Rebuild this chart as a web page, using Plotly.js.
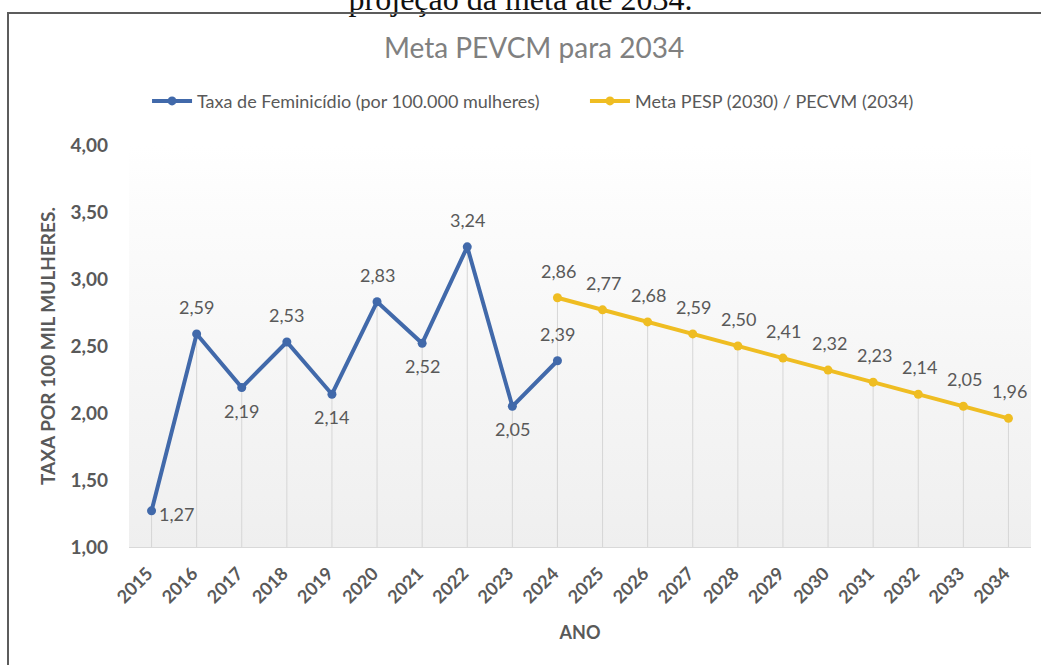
<!DOCTYPE html>
<html>
<head>
<meta charset="utf-8">
<script src="https://cdn.plot.ly/plotly-3.0.1.min.js"></script>
<style>
  html, body { margin: 0; padding: 0; background: #ffffff; width: 1041px; height: 665px; overflow: hidden; }
  #wrap { position: relative; width: 1041px; height: 665px; }
  #caption { position: absolute; left: 0; top: -17px; width: 1041px; text-align: center;
             font-family: 'Liberation Serif', 'Times New Roman', serif; font-size: 32px; line-height: 32px; color: #111; white-space: nowrap; }
  #frame { position: absolute; left: 7px; top: 12px; width: 1040px; height: 660px;
           border-top: 2px solid #5c5c5c; border-left: 2px solid #5c5c5c; box-sizing: border-box; }
  #bg { position: absolute; background: linear-gradient(to bottom, #ffffff 0%, #fcfcfc 15%, #efefef 100%); }
  #chart { position: absolute; left: 0; top: 0; width: 1041px; height: 665px; }
</style>
</head>
<body>
<div id="wrap">
  <div id="caption">projeção da meta até 2034.</div>
  <div id="frame"></div>
  <div id="bg"></div>
  <div id="chart"></div>
</div>
<script>
// ---- data ----
const years = ['2015','2016','2017','2018','2019','2020','2021','2022','2023','2024',
               '2025','2026','2027','2028','2029','2030','2031','2032','2033','2034'];
const taxaYears = ['2015','2016','2017','2018','2019','2020','2021','2022','2023','2024'];
const taxaValues = [1.27, 2.59, 2.19, 2.53, 2.14, 2.83, 2.52, 3.24, 2.05, 2.39];
const taxaLabelPos = ['right','above','below','above','below','above','below','above','below','above'];
const metaYears = ['2024','2025','2026','2027','2028','2029','2030','2031','2032','2033','2034'];
const metaValues = [2.86, 2.77, 2.68, 2.59, 2.50, 2.41, 2.32, 2.23, 2.14, 2.05, 1.96];
const taxaName = 'Taxa de Feminicídio (por 100.000 mulheres)';
const metaName = 'Meta PESP (2030) / PECVM (2034)';
const yMin = 1, yMax = 4;

// ---- style ----
const FONT = 'Lato, "Open Sans", sans-serif';
const TXT = '#595959';
const BLUE = '#4169aa';
const GOLD = '#efbd22';
const M = {l: 129, r: 10, t: 145, b: 118};

const bg = document.getElementById('bg');
bg.style.left = M.l + 'px'; bg.style.top = M.t + 'px';
bg.style.width = (1041 - M.l - M.r) + 'px'; bg.style.height = (665 - M.t - M.b) + 'px';

function fmt(v) { return v.toFixed(2).replace('.', ','); }
function catIndex(yr) { return years.indexOf(yr); }

function dropTrace(xs, ys) {
  return {
    x: xs, y: ys, type: 'scatter', mode: 'markers',
    marker: {size: 1, opacity: 0}, showlegend: false, hoverinfo: 'skip',
    error_y: {type: 'data', symmetric: false, array: ys.map(() => 0),
              arrayminus: ys.map(v => v - yMin), color: '#d6d6d6', thickness: 1, width: 0}
  };
}

const traces = [
  dropTrace(taxaYears, taxaValues),
  dropTrace(metaYears, metaValues),
  {x: taxaYears, y: taxaValues, name: taxaName, type: 'scatter', mode: 'lines+markers', legend: 'legend',
   line: {color: BLUE, width: 4}, marker: {color: BLUE, size: 9}},
  {x: metaYears, y: metaValues, name: metaName, type: 'scatter', mode: 'lines+markers', legend: 'legend2',
   line: {color: GOLD, width: 4}, marker: {color: GOLD, size: 9}}
];

const annotations = [];
taxaYears.forEach((yr, i) => {
  const p = taxaLabelPos[i];
  const a = {x: catIndex(yr), y: taxaValues[i], xref: 'x', yref: 'y', text: fmt(taxaValues[i]), showarrow: false,
             font: {family: FONT, size: 18, color: TXT}};
  if (p === 'above') { a.yshift = 27; }
  else if (p === 'below') { a.yshift = -23; }
  else { a.xshift = 25; a.yshift = -3; }
  annotations.push(a);
});
metaYears.forEach((yr, i) => {
  annotations.push({x: catIndex(yr), y: metaValues[i], xref: 'x', yref: 'y', text: fmt(metaValues[i]), showarrow: false,
                    yshift: 27, xshift: 1, font: {family: FONT, size: 18, color: TXT}});
});

const legendBase = {orientation: 'h', xanchor: 'left', y: 1.109, yanchor: 'middle',
                    font: {family: FONT, size: 18, color: TXT}, bgcolor: 'rgba(0,0,0,0)', itemwidth: 40};

const layout = {
  width: 1041, height: 665,
  margin: M,
  paper_bgcolor: 'rgba(0,0,0,0)', plot_bgcolor: 'rgba(0,0,0,0)',
  separators: ',.',
  font: {family: FONT, color: TXT},
  title: {text: 'Meta PEVCM para 2034', font: {family: FONT, size: 28, color: '#808080'},
          x: 0.513, xanchor: 'center', y: 0.928, yanchor: 'middle'},
  showlegend: true,
  legend: Object.assign({}, legendBase, {x: 0.02}),
  legend2: Object.assign({}, legendBase, {x: 0.5055}),
  xaxis: {type: 'category', categoryorder: 'array', categoryarray: years, range: [-0.5, years.length - 0.5],
          autorange: false,
          tickangle: -45, ticks: '', showgrid: false, zeroline: false,
          showline: true, linecolor: '#d9d9d9', linewidth: 1,
          ticklabelstandoff: 8, ticklabelshift: -4,
          tickfont: {family: FONT, size: 18, color: TXT, weight: 'bold'},
          title: {text: 'ANO', font: {family: FONT, size: 18, color: TXT, weight: 'bold'}, standoff: 20}},
  yaxis: {range: [yMin, yMax], autorange: false, dtick: 0.5, tickformat: '.2f', ticks: '', showgrid: false, zeroline: false,
          showline: false, ticklabelstandoff: 20,
          tickfont: {family: FONT, size: 19, color: TXT, weight: 'bold'},
          title: {text: 'TAXA POR 100 MIL MULHERES.', font: {family: FONT, size: 19, color: TXT, weight: 'bold'}, standoff: 9}},
  annotations: annotations
};

Plotly.newPlot('chart', traces, layout, {displayModeBar: false, staticPlot: true});
</script>
</body>
</html>
